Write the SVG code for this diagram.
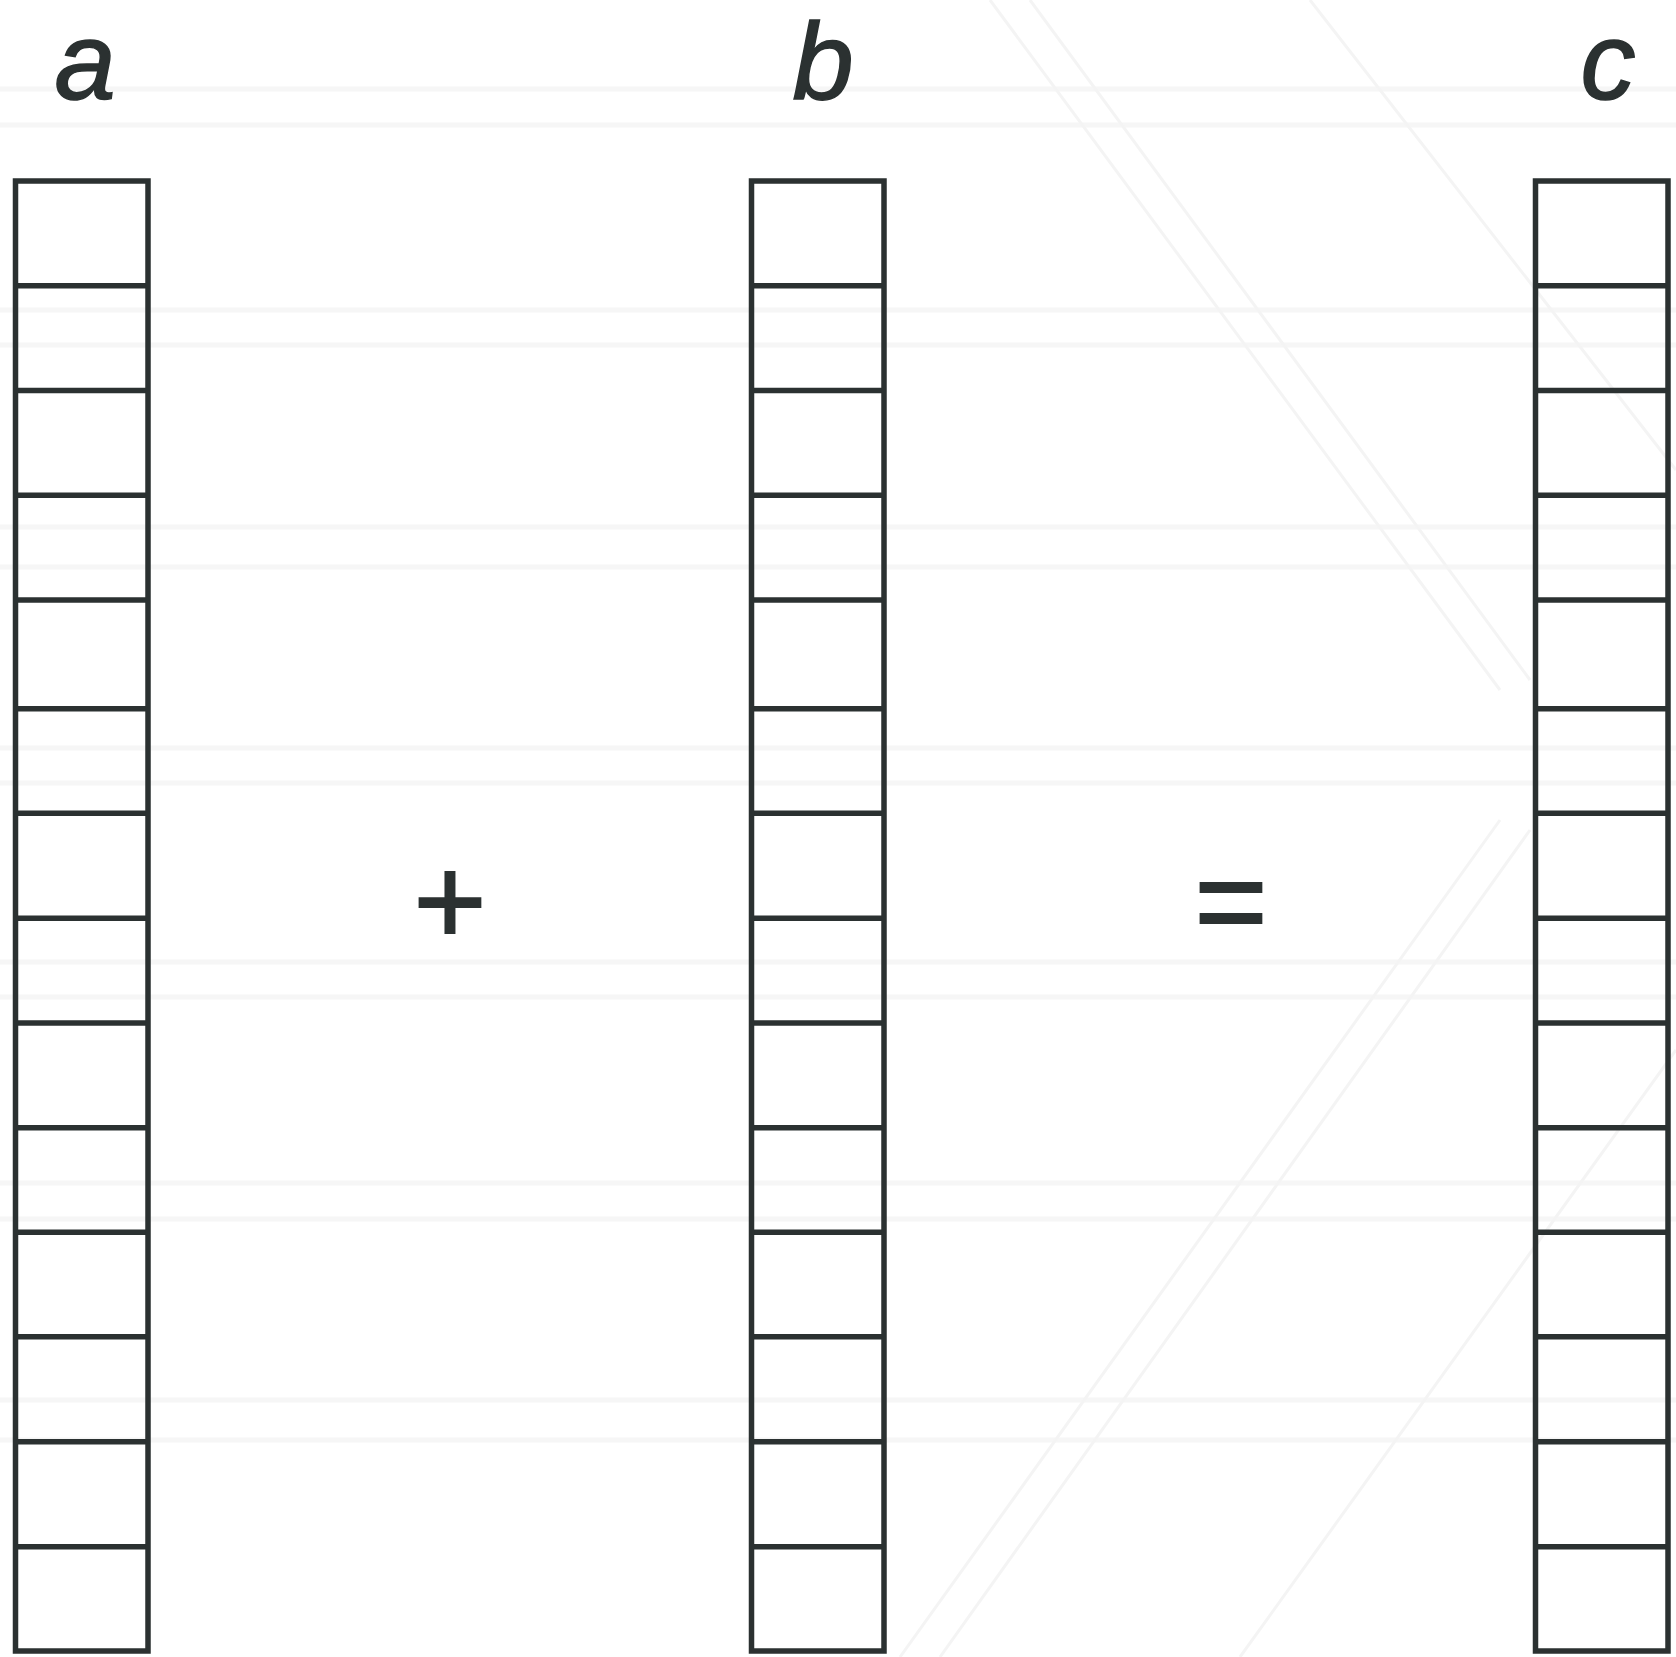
<svg xmlns="http://www.w3.org/2000/svg" width="1676" height="1657" viewBox="0 0 1676 1657">
<style>
.bg{stroke:#f6f6f6;stroke-width:5;fill:none}
.bgd{stroke:#f4f4f4;stroke-width:3;fill:none}
.cell{fill:none;stroke:#2b3131;stroke-width:5.5}
.div{stroke:#2b3131;stroke-width:5.5}
.lbl{font-family:"Liberation Sans",Arial,sans-serif;font-style:italic;font-size:110px;fill:#2b3131;stroke:#2b3131;stroke-width:1.5;text-anchor:middle}
.op{font-family:"Liberation Sans",Arial,sans-serif;font-size:125px;fill:#2b3131;stroke:#2b3131;stroke-width:2;text-anchor:middle}
</style>
<defs>
<g id="dividers">
<line class="div" x1="0" y1="285.7" x2="132.5" y2="285.7"/>
<line class="div" x1="0" y1="390.5" x2="132.5" y2="390.5"/>
<line class="div" x1="0" y1="495.3" x2="132.5" y2="495.3"/>
<line class="div" x1="0" y1="600" x2="132.5" y2="600"/>
<line class="div" x1="0" y1="708.7" x2="132.5" y2="708.7"/>
<line class="div" x1="0" y1="813.3" x2="132.5" y2="813.3"/>
<line class="div" x1="0" y1="918.3" x2="132.5" y2="918.3"/>
<line class="div" x1="0" y1="1023" x2="132.5" y2="1023"/>
<line class="div" x1="0" y1="1127.7" x2="132.5" y2="1127.7"/>
<line class="div" x1="0" y1="1232.3" x2="132.5" y2="1232.3"/>
<line class="div" x1="0" y1="1336.7" x2="132.5" y2="1336.7"/>
<line class="div" x1="0" y1="1441.7" x2="132.5" y2="1441.7"/>
<line class="div" x1="0" y1="1546.7" x2="132.5" y2="1546.7"/>
<rect class="cell" x="0" y="181" width="132.5" height="1470"/>
</g>
</defs>
<rect x="0" y="0" width="1676" height="1657" fill="#ffffff"/>
<g id="background">
<line class="bg" x1="0" y1="89" x2="1676" y2="89"/>
<line class="bg" x1="0" y1="125" x2="1676" y2="125"/>
<line class="bg" x1="0" y1="310" x2="1676" y2="310"/>
<line class="bg" x1="0" y1="345" x2="1676" y2="345"/>
<line class="bg" x1="0" y1="527" x2="1676" y2="527"/>
<line class="bg" x1="0" y1="567" x2="1676" y2="567"/>
<line class="bg" x1="0" y1="748" x2="1676" y2="748"/>
<line class="bg" x1="0" y1="783" x2="1676" y2="783"/>
<line class="bg" x1="0" y1="962" x2="1676" y2="962"/>
<line class="bg" x1="0" y1="997" x2="1676" y2="997"/>
<line class="bg" x1="0" y1="1183" x2="1676" y2="1183"/>
<line class="bg" x1="0" y1="1219" x2="1676" y2="1219"/>
<line class="bg" x1="0" y1="1400" x2="1676" y2="1400"/>
<line class="bg" x1="0" y1="1440" x2="1676" y2="1440"/>
<line class="bgd" x1="990" y1="0" x2="1500" y2="690"/>
<line class="bgd" x1="1030" y1="0" x2="1530" y2="680"/>
<line class="bgd" x1="900" y1="1657" x2="1500" y2="820"/>
<line class="bgd" x1="940" y1="1657" x2="1530" y2="830"/>
<line class="bgd" x1="1310" y1="0" x2="1676" y2="470"/>
<line class="bgd" x1="1240" y1="1657" x2="1676" y2="1050"/>
</g>
<g id="col-a">
<text class="lbl" x="85" y="99">a</text>
<use href="#dividers" x="15.5" y="0"/>
</g>
<g id="plus">
<text class="op" x="450" y="944">+</text>
</g>
<g id="col-b">
<text class="lbl" x="823" y="99">b</text>
<use href="#dividers" x="751.5" y="0"/>
</g>
<g id="equals">
<text class="op" x="1231" y="944">=</text>
</g>
<g id="col-c">
<text class="lbl" x="1608" y="99">c</text>
<use href="#dividers" x="1535.5" y="0"/>
</g>
<g id="connectors"/>
</svg>
